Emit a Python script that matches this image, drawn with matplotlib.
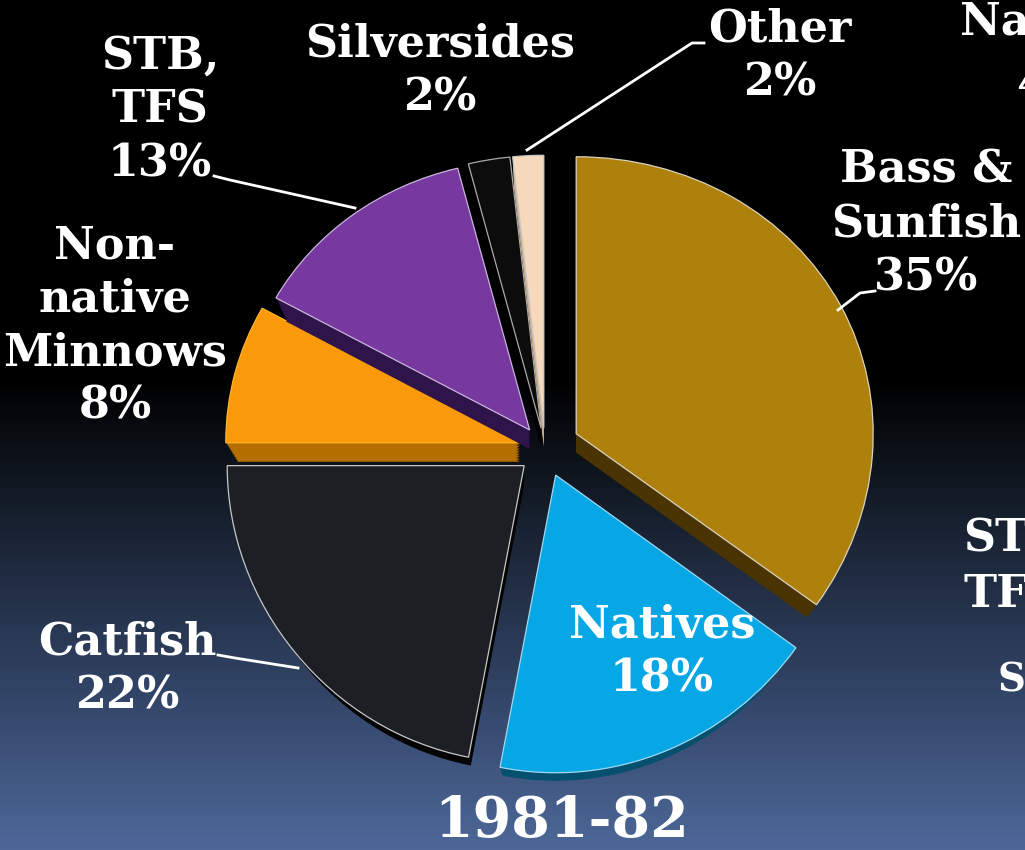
import matplotlib.pyplot as plt
import numpy as np

# 1981-82 pie values, clockwise from the top
categories = ['Bass & Sunfish', 'Natives', 'Catfish', 'Non-native Minnows', 'STB, TFS', 'Silversides', 'Other']
values = [35, 18, 22, 8, 13, 2.3, 1.7]
explode = [35, 29, 27, 26, 25, 22, 22]
# the back slices look a little smaller in the perspective
radius_scale = [1, 1, 1, 0.99, 0.975, 0.985, 0.985]

top_colors = ['#ae800c', '#07a6e4', '#1c1f24', '#fa9a0a', '#7738a0', '#0c0c0c', '#f6d9ba']
side_colors = ['#4a3404', '#05506e', '#050505', '#b56e00', '#2e1448', '#000000', '#c9a98a']
edge_colors = ['#d8d2c0', '#9fd8f0', '#c8c8c8', '#ffb52a', '#c9b4dc', '#aaaaaa', '#c8c8c8']

grad_y = [0, 380, 500, 690, 850]
grad_r = [0, 0, 20, 50, 77]
grad_g = [0, 0, 28, 68, 104]
grad_b = [0, 0, 40, 102, 152]

W, H = 1025, 850
CX, CY = 545, 449
RADIUS = 297
DEPTH = 19
# tilt of the pie: the back is squeezed more than the front
TILT_A = 0.965
TILT_K = 0.000106


def tilt(y):
    return TILT_A * y / (1 + TILT_K * y)


def untilt(v):
    return v / (TILT_A - TILT_K * v)


plt.rcParams['font.family'] = ['DejaVu Serif']

fig = plt.figure(figsize=(W / 100, H / 100), dpi=100)

# background
ax_bg = fig.add_axes([0, 0, 1, 1], zorder=0)
rows = np.arange(H)
grad = np.stack([np.interp(rows, grad_y, grad_r),
                 np.interp(rows, grad_y, grad_g),
                 np.interp(rows, grad_y, grad_b)], axis=1)[:, None, :] / 255
ax_bg.imshow(grad, aspect='auto', extent=(0, W, H, 0))
ax_bg.axis('off')

ax = fig.add_axes([0, 0, 1, 1], zorder=1)

# side walls: stacked layers going down, each a little smaller
for step in np.linspace(1, 0.05, 12):
    sides, _ = ax.pie(values, explode=explode, radius=RADIUS, startangle=90,
                      counterclock=False, colors=side_colors, center=(CX, -DEPTH * step / TILT_A))
    for i, s in enumerate(sides):
        s.set_radius(RADIUS * radius_scale[i] * (1 - 0.04 * step))
        s.set_zorder(2 + i * 2)
        s.set_linewidth(0)

tops, _ = ax.pie(values, explode=explode, radius=RADIUS, startangle=90, counterclock=False,
                 colors=top_colors, center=(CX, 0))
for i, t in enumerate(tops):
    t.set_radius(RADIUS * radius_scale[i])
    t.set_zorder(3 + i * 2)
    t.set_edgecolor(edge_colors[i])
    t.set_linewidth(0.9)

ax.set_aspect('auto')
ax.set_yscale('function', functions=(tilt, untilt))
ax.set_xlim(0, W)
ax.set_ylim(untilt(CY - H), untilt(CY))
ax.axis('off')

# labels and leader lines, in pixels of the picture
ax_txt = fig.add_axes([0, 0, 1, 1], zorder=2)
ax_txt.set_xlim(0, W)
ax_txt.set_ylim(H, 0)
ax_txt.axis('off')


def label(x, y, s, size=32, ha='center'):
    ax_txt.text(x, y, s, color='white', fontsize=size, fontweight='bold', ha=ha, va='center',
                linespacing=1.31, clip_on=False)


label(780, 56, 'Other\n2%')
label(440, 71, 'Silversides\n2%')
label(160, 110, 'STB,\nTFS\n13%')
label(115, 326, 'Non-\nnative\nMinnows\n8%')
label(926, 224, 'Bass &\nSunfish\n35%')
label(127, 669, 'Catfish\n22%')
label(662, 652, 'Natives\n18%')
label(562, 821, '1981-82', size=40)

# labels of the next pie, cut off by the edge
label(960, 22, 'Natives', ha='left')
label(1016, 85, '4', ha='left')
label(963, 538, 'STB,', ha='left')
label(963, 595, 'TFS', ha='left')
label(997, 680, 'Se', size=28, ha='left')

ax_txt.plot([704, 692, 527], [43, 43, 150], color='white', lw=2)
ax_txt.plot([214, 230, 355], [176, 180, 208], color='white', lw=2)
ax_txt.plot([875, 860, 838], [291, 293, 310], color='white', lw=2)
ax_txt.plot([218, 235, 298], [655, 658, 668], color='white', lw=2)

fig.savefig('out.png', dpi=100)
